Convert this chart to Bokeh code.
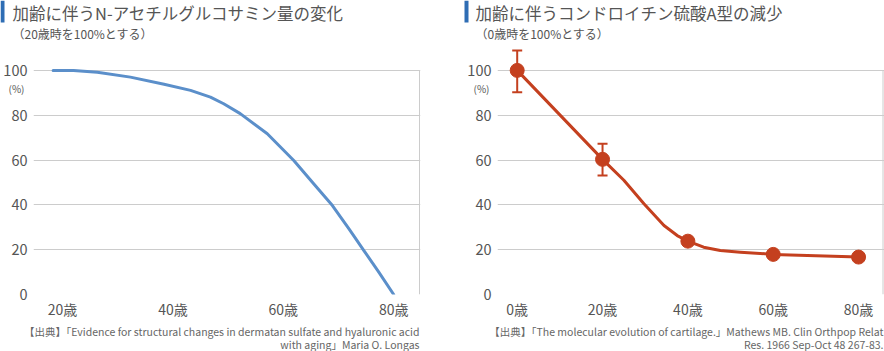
from bokeh.plotting import figure
from bokeh.layouts import row, column
from bokeh.models import Label, BoxAnnotation, Whisker, TeeHead, ColumnDataSource, FixedTicker, Range1d
from bokeh.embed import file_html
from bokeh.resources import INLINE

# ---------------- data ----------------
left_title = "加齢に伴うN-アセチルグルコサミン量の変化"
left_sub = "（20歳時を100%とする）"
left_ticks = [20, 40, 60, 80]
left_age = [18.3, 22, 26.3, 32.3, 38.4, 43.2, 46.8, 49.2, 52.2, 57.1, 61.9, 65.5, 68.9, 71.9, 74.6, 77.3, 80]
left_val = [100, 100, 99.2, 97.0, 93.8, 91.1, 88.1, 85.1, 80.7, 71.7, 59.8, 49.4, 39.7, 29.3, 19.6, 10.0, 0]
left_src = ["【出典】「Evidence for structural changes in dermatan sulfate and hyaluronic acid",
            "with aging」Maria O. Longas"]

right_title = "加齢に伴うコンドロイチン硫酸A型の減少"
right_sub = "（0歳時を100%とする）"
right_ticks = [0, 20, 40, 60, 80]
right_pt_age = [0, 20, 40, 60, 80]
right_pt_val = [100, 60.3, 23.8, 17.9, 16.7]
right_err_age = [0, 20]
right_err_up = [108.9, 67.3]
right_err_lo = [90.3, 53.1]
right_line_age = [0, 20, 25, 29.7, 34.4, 37.5, 40, 43.7, 47.6, 52.3, 60, 80]
right_line_val = [100, 60.3, 51.0, 40.5, 30.8, 26.3, 23.8, 21.1, 19.6, 18.9, 17.9, 16.7]
right_src = ["【出典】「The molecular evolution of cartilage.」Mathews MB. Clin Orthpop Relat",
             "Res. 1966 Sep-Oct 48 267-83."]

y_ticks = [0, 20, 40, 60, 80, 100]

FONT = "Noto Sans CJK JP"
TXT = "#555555"
GRID = "#cccccc"
BLUE = "#5b8fca"
RED = "#c4401f"
BAR = "#2e6db4"

HEADER_H = 43
CHART_H = 281
FOOTER_H = 27


def blank_fig(w, h):
    p = figure(width=w, height=h, x_range=Range1d(0, w), y_range=Range1d(0, h),
               output_backend="svg", toolbar_location=None, title=None,
               x_axis_location=None, y_axis_location=None, min_border=0)
    p.grid.visible = False
    p.outline_line_color = None
    p.background_fill_color = "white"
    p.border_fill_color = "white"
    return p


def lab(p, place=None, **kw):
    l = Label(x_units="canvas", y_units="canvas", text_font=FONT, text_baseline="middle", **kw)
    if place is None:
        p.add_layout(l)
    else:
        p.add_layout(l, place)


def make_fig(xr, min_left, min_right, ticks):
    p = figure(width=442, height=CHART_H, x_range=Range1d(*xr), y_range=Range1d(0, 112),
               output_backend="svg", toolbar_location=None, title=None,
               min_border_left=min_left, min_border_right=min_right,
               min_border_top=0, min_border_bottom=30)
    p.outline_line_color = None
    p.background_fill_color = "white"
    p.border_fill_color = "white"
    p.xgrid.grid_line_color = None
    p.ygrid.grid_line_color = GRID
    p.ygrid.grid_line_width = 1
    p.yaxis.ticker = FixedTicker(ticks=y_ticks)
    p.xaxis.ticker = FixedTicker(ticks=ticks)
    p.xaxis.major_label_overrides = {t: f"{t}歳" for t in ticks}
    for ax in (p.xaxis, p.yaxis):
        ax.axis_line_color = None
        ax.major_tick_line_color = None
        ax.minor_tick_line_color = None
        ax.major_tick_out = 0
        ax.major_tick_in = 0
        ax.minor_tick_out = 0
        ax.minor_tick_in = 0
        ax.major_label_text_font = FONT
        ax.major_label_text_color = TXT
    p.yaxis.major_label_text_font_size = "14.5px"
    p.xaxis.major_label_text_font_size = "14px"
    p.yaxis.major_label_standoff = 6
    p.xaxis.major_label_standoff = 4
    return p


# ---------------- header ----------------
hdr = blank_fig(884, HEADER_H)
for bar_left, text_left, title, sub in ((0, 12, left_title, left_sub), (464, 475, right_title, right_sub)):
    hdr.add_layout(BoxAnnotation(left=bar_left, right=bar_left + 4, top=0, bottom=22,
                                 left_units="canvas", right_units="canvas",
                                 top_units="canvas", bottom_units="canvas",
                                 fill_color=BAR, fill_alpha=1, line_color=None))
    lab(hdr, x=text_left, y=12, text=title, text_font_size="16.5px", text_color=TXT, text_align="left")
    lab(hdr, x=text_left, y=33, text=sub, text_font_size="12px", text_color=TXT, text_align="left")

# ---------------- footer ----------------
ftr = blank_fig(884, FOOTER_H)
for src, right_x in ((left_src, 419), (right_src, 883)):
    for i, line in enumerate(src):
        lab(ftr, x=right_x, y=7 + 12.5 * i, text=line, text_font_size="10.5px",
            text_color="#666666", text_align="right")

# ---------------- left chart ----------------
px_per_year_l = 5.52
lx0 = 20 - 29 / px_per_year_l
lx1 = 20 + (420 - 62) / px_per_year_l
pl = make_fig((lx0, lx1), 33, 22, left_ticks)
border_l = 20 + (419 - 62) / px_per_year_l
pl.segment(x0=[border_l], y0=[0], x1=[border_l], y1=[100], line_color=GRID, line_width=1)
pl.line(left_age, left_val, line_color=BLUE, line_width=3, line_cap="round", line_join="round")
lab(pl, place="right", x=16, y=88 - HEADER_H, text="(%)", text_font_size="10px",
    text_color=TXT, text_align="center")

# ---------------- right chart ----------------
px_per_year_r = 4.267
rx0 = -(516.7 - 497) / px_per_year_r
rx1 = (884 - 516.7) / px_per_year_r
pr = make_fig((rx0, rx1), 55, 0, right_ticks)
border_r = (882.5 - 516.7) / px_per_year_r
pr.segment(x0=[border_r], y0=[0], x1=[border_r], y1=[100], line_color=GRID, line_width=1)
pr.line(right_line_age, right_line_val, line_color=RED, line_width=3, line_join="round")
err = ColumnDataSource(dict(x=right_err_age, upper=right_err_up, lower=right_err_lo))
pr.add_layout(Whisker(source=err, base="x", upper="upper", lower="lower",
                      line_color=RED, line_width=2,
                      upper_head=TeeHead(size=10, line_color=RED, line_width=2),
                      lower_head=TeeHead(size=10, line_color=RED, line_width=2)))
pr.scatter(right_pt_age, right_pt_val, size=14, fill_color=RED, line_color=RED)
lab(pr, place="left", x=481 - 442, y=88 - HEADER_H, text="(%)", text_font_size="10px",
    text_color=TXT, text_align="center")

layout = column(hdr, row(pl, pr, spacing=0), ftr, spacing=0)
open("out.html", "w").write(file_html(layout, INLINE))
